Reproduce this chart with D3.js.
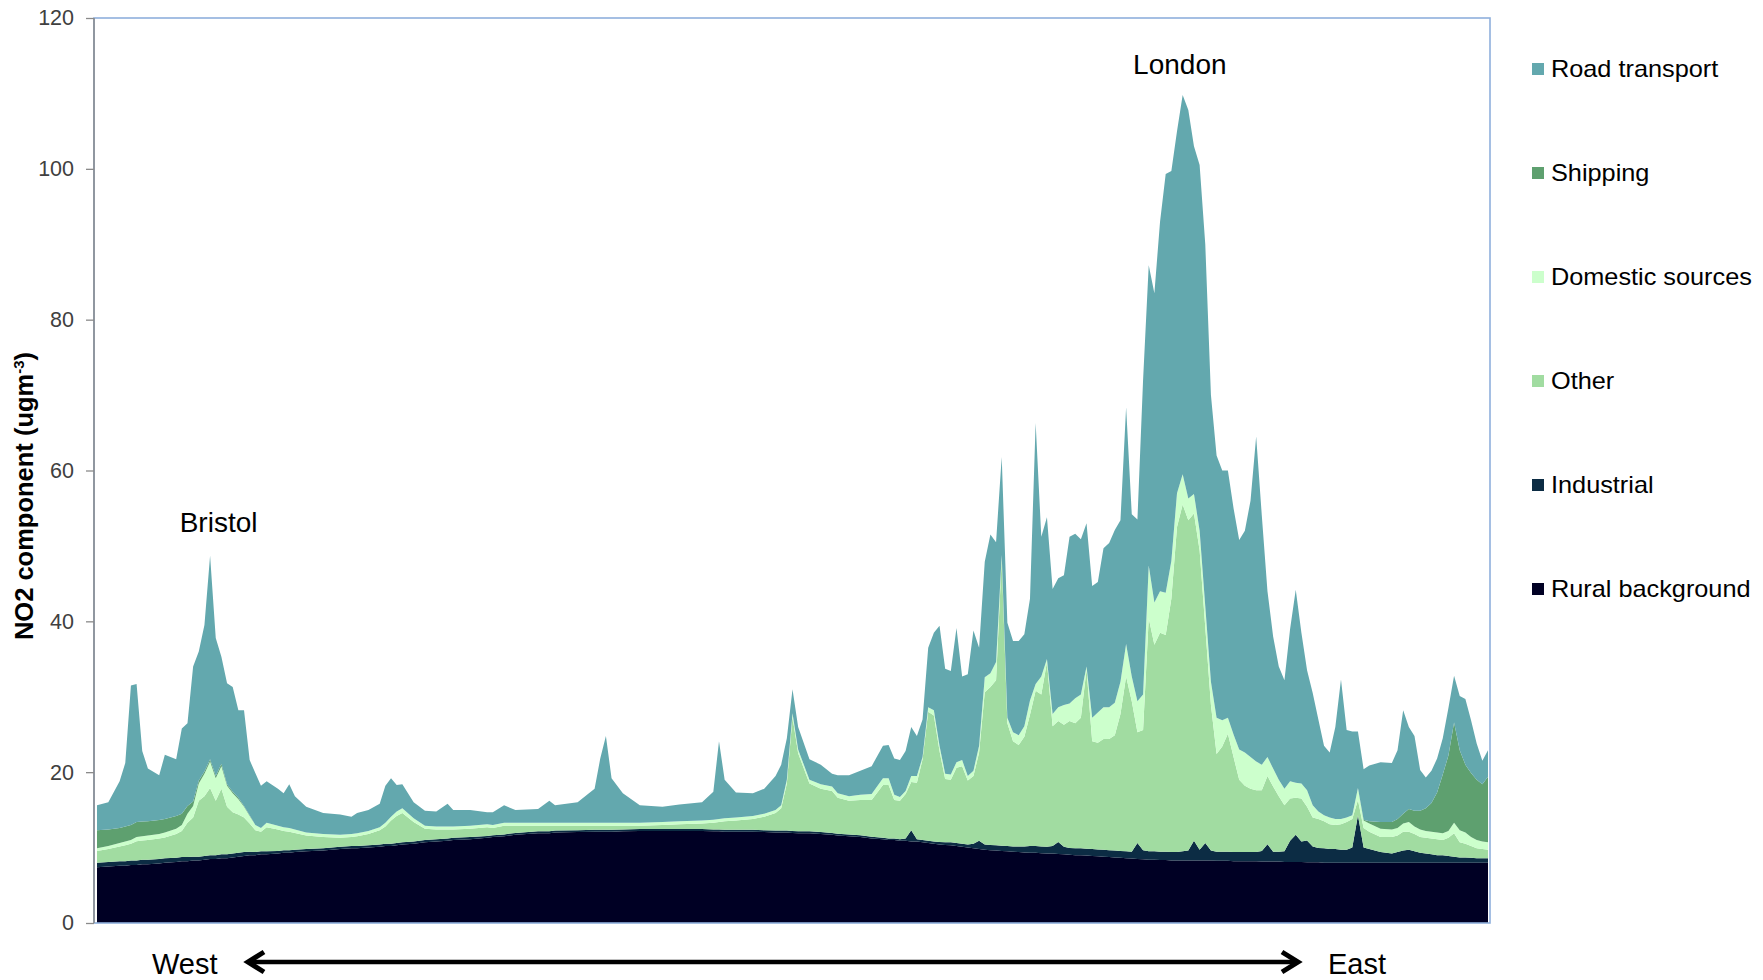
<!DOCTYPE html>
<html><head><meta charset="utf-8">
<script src="https://cdn.jsdelivr.net/npm/d3@7/dist/d3.min.js"></script>
<style>
html,body{margin:0;padding:0;background:#fff;}
svg{display:block;}
text{font-family:"Liberation Sans",Arial,sans-serif;}
</style></head>
<body>
<svg id="chart" width="1763" height="980"></svg>
<script>
// Sample index along the West→East transect (0..246)
const positions = [
0,2,4,5,6,7,8,9,11,12,
14,15,16,17,18,19,20,21,22,23,
24,25,26,27,28,29,30,32,33,34,
35,37,40,43,45,46,48,50,51,52,
53,54,56,58,60,62,63,66,69,70,
72,74,78,80,81,85,88,89,90,91,
93,96,100,103,107,109,110,111,113,116,
118,120,121,122,123,124,126,128,130,131,
133,135,137,139,140,141,142,143,144,145,
146,147,148,149,150,151,152,153,154,155,
156,157,158,159,160,161,162,163,164,165,
166,167,168,169,170,171,172,173,174,175,
176,177,178,179,180,181,182,183,184,185,
186,187,188,189,190,191,192,193,194,195,
196,197,198,199,200,201,202,203,204,205,
206,207,208,209,210,211,212,213,214,215,
216,217,218,219,220,221,222,223,224,225,
227,229,230,231,232,233,234,235,236,237,
238,239,240,241,242,243,244,245,246];

const ruralBackground = [
7.4,7.5,7.6,7.6,7.7,7.7,7.8,7.8,7.9,8.0,
8.1,8.2,8.2,8.3,8.3,8.4,8.5,8.5,8.6,8.6,
8.7,8.8,8.9,9.0,9.0,9.1,9.1,9.2,9.3,9.3,
9.4,9.5,9.6,9.8,9.9,9.9,10.0,10.1,10.2,10.2,
10.3,10.4,10.5,10.7,10.8,10.9,11.0,11.1,11.3,11.4,
11.5,11.7,11.9,11.9,12.0,12.05,12.1,12.1,12.1,12.1,
12.15,12.2,12.2,12.2,12.2,12.15,12.15,12.1,12.1,12.1,
12.05,12.0,12.0,12.0,11.95,11.9,11.9,11.8,11.7,11.6,
11.5,11.4,11.2,11.1,11.0,11.0,10.9,10.9,10.8,10.8,
10.7,10.6,10.5,10.4,10.35,10.3,10.2,10.1,10.0,9.9,
9.8,9.7,9.65,9.6,9.55,9.5,9.45,9.4,9.35,9.3,
9.3,9.25,9.2,9.2,9.15,9.1,9.05,9.0,9.0,8.95,
8.9,8.85,8.8,8.75,8.7,8.65,8.6,8.55,8.5,8.45,
8.4,8.4,8.35,8.35,8.3,8.3,8.3,8.3,8.3,8.3,
8.3,8.3,8.25,8.25,8.25,8.2,8.2,8.2,8.2,8.2,
8.15,8.15,8.15,8.15,8.1,8.1,8.1,8.1,8.05,8.05,
8.05,8.0,8.0,8.0,8.0,8.0,8.0,8.0,8.0,8.0,
8.0,8.0,8.0,8.0,8.0,8.0,8.0,8.0,8.0,8.0,
8.0,8.0,8.0,8.0,8.0,8.0,8.0,8.0,8.0];

const industrial = [
0.6,0.6,0.6,0.6,0.6,0.6,0.6,0.6,0.6,0.6,
0.55,0.55,0.55,0.5,0.5,0.5,0.5,0.5,0.5,0.5,
0.5,0.5,0.5,0.45,0.4,0.4,0.4,0.35,0.35,0.35,
0.3,0.3,0.3,0.3,0.3,0.3,0.3,0.3,0.3,0.3,
0.3,0.3,0.3,0.3,0.3,0.3,0.3,0.3,0.25,0.25,
0.25,0.25,0.25,0.25,0.25,0.25,0.25,0.25,0.25,0.25,
0.25,0.25,0.25,0.25,0.25,0.25,0.25,0.25,0.25,0.25,
0.25,0.25,0.25,0.25,0.25,0.25,0.25,0.25,0.25,0.25,
0.25,0.25,0.25,0.2,0.2,0.2,0.2,0.3,1.5,0.3,
0.3,0.3,0.3,0.35,0.35,0.4,0.4,0.4,0.4,0.6,
1.1,0.7,0.7,0.7,0.7,0.7,0.7,0.75,0.8,0.9,
0.9,0.9,0.9,1.0,1.6,1.0,0.9,0.9,0.9,0.9,
0.9,0.9,0.9,0.9,0.9,0.9,0.9,0.9,2.1,1.2,
1.1,1.1,1.1,1.1,1.1,1.1,1.2,1.3,2.6,1.4,
2.3,1.3,1.2,1.2,1.2,1.2,1.2,1.2,1.2,1.2,
1.4,2.3,1.3,1.3,1.4,2.8,3.6,2.7,2.9,2.1,
1.9,1.9,1.8,1.8,1.7,1.7,2.0,6.3,2.0,1.8,
1.4,1.2,1.4,1.6,1.7,1.5,1.3,1.2,1.1,1.0,
1.0,0.9,0.8,0.7,0.7,0.65,0.6,0.6,0.6];

const other = [
1.55,1.7,1.95,2.1,2.2,2.55,2.55,2.6,2.7,2.75,
3.15,3.45,4.55,5.2,7.4,7.9,8.9,7.2,8.7,6.3,
5.5,5.1,4.6,3.75,2.9,2.6,3.2,2.85,2.55,2.45,
2.25,1.8,1.5,1.2,1.2,1.3,1.5,1.9,2.3,3.1,
3.6,3.9,2.6,1.5,1.3,1.2,1.1,1.1,1.15,0.95,
1.15,0.95,0.75,0.75,0.65,0.6,0.55,0.55,0.55,0.55,
0.5,0.45,0.55,0.65,0.75,0.9,1.0,1.15,1.25,1.45,
1.8,2.35,2.95,6.25,15.1,10.35,6.35,5.75,5.55,4.75,
4.45,4.65,4.85,7.0,7.1,5.1,5.1,5.9,6.4,7.5,
10.7,17.1,16.7,12.05,8.4,8.3,10.0,10.3,8.5,9.0,
11.7,20.2,20.95,21.9,38.05,16.3,13.95,13.45,14.55,17.4,
20.6,20.15,24.5,15.9,16.05,16.2,16.85,16.6,17.3,23.75,
14.3,14.15,14.7,14.75,15.3,18.15,23.2,19.95,14.7,15.95,
30.9,27.4,29.05,28.75,33.6,43.1,46.0,43.8,43.4,39.7,
28.6,19.3,12.95,13.95,15.65,12.6,9.6,8.8,8.4,8.2,
8.05,9.05,8.65,7.35,6.1,5.6,4.9,5.7,4.45,3.85,
3.85,3.6,3.3,3.2,3.4,3.7,3.8,2.0,2.6,2.3,
2.0,2.2,2.2,2.5,2.4,2.3,2.1,2.1,2.1,2.1,
2.0,2.4,3.1,2.0,1.8,1.55,1.3,1.2,1.1];

const domesticSources = [
0.35,0.4,0.45,0.5,0.5,0.55,0.55,0.6,0.6,0.65,
0.7,0.8,1.2,1.5,2.3,3.0,3.5,3.0,3.0,2.8,
2.5,2.0,1.4,1.0,0.7,0.5,0.6,0.5,0.5,0.5,
0.45,0.4,0.4,0.4,0.4,0.4,0.4,0.4,0.5,0.5,
0.6,0.6,0.5,0.4,0.4,0.4,0.4,0.4,0.4,0.4,
0.4,0.4,0.4,0.4,0.4,0.4,0.4,0.4,0.4,0.4,
0.4,0.4,0.4,0.4,0.4,0.4,0.4,0.4,0.4,0.4,
0.4,0.4,0.4,0.5,0.5,0.5,0.5,0.6,0.6,0.6,
0.6,0.7,0.8,0.9,0.9,0.7,0.5,0.4,0.8,0.9,
0.3,0.6,0.7,0.7,0.7,0.7,0.7,0.8,0.6,0.7,
0.9,2.0,1.8,2.4,0.5,0.7,1.2,1.3,1.4,1.9,
0.9,2.4,0.4,1.6,1.8,2.6,2.3,3.3,3.1,0.4,
3.1,4.0,4.2,4.2,4.3,4.3,4.3,3.3,4.1,4.7,
7.0,5.6,5.5,5.6,5.0,4.5,4.0,2.9,2.6,2.6,
2.8,3.1,4.8,3.5,2.1,3.0,4.0,4.4,4.2,3.8,
3.4,2.5,2.4,2.2,2.2,2.3,2.0,2.0,2.2,1.6,
1.0,0.8,0.9,0.8,0.7,0.6,0.5,1.6,1.0,1.1,
1.1,1.0,1.0,1.1,1.3,1.0,1.0,0.9,0.9,0.9,
0.9,0.9,1.4,1.6,1.5,1.2,1.1,1.0,1.0];

const shipping = [
2.4,2.2,2.0,2.0,2.0,2.0,1.95,1.9,1.85,1.8,
1.7,1.5,1.0,0.6,0.4,0.3,0.3,0.3,0.3,0.2,
0.2,0.2,0.1,0.1,0,0,0,0,0,0,
0,0,0,0,0,0,0,0,0,0,
0,0,0,0,0,0,0,0,0,0,
0,0,0,0,0,0,0,0,0,0,
0,0,0,0,0,0,0,0,0,0,
0,0,0,0,0,0,0,0,0,0,
0,0,0,0,0,0,0,0,0,0,
0,0,0,0,0,0,0,0,0,0,
0,0,0,0,0,0,0,0,0,0,
0,0,0,0,0,0,0,0,0,0,
0,0,0,0,0,0,0,0,0,0,
0,0,0,0,0,0,0,0,0,0,
0,0,0,0,0,0,0,0,0,0,
0,0,0,0,0,0,0,0,0,0,
0,0,0,0,0,0,0,0,0.1,0.3,
0.9,1.0,1.2,1.3,1.7,2.1,2.5,3.0,3.8,5.3,
7.8,10.0,13.3,10.6,9.0,8.5,8.0,7.6,8.7];

const roadTransport = [
3.3,3.6,6.2,8.4,18.5,18.3,9.35,7.0,5.95,8.5,
7.5,11.3,11.0,17.9,17.1,19.4,27.0,18.3,14.2,13.4,
13.9,11.6,12.7,7.3,6.9,5.6,5.5,4.9,4.5,5.8,
4.4,3.4,2.8,2.7,2.3,2.7,2.8,3.1,4.9,5.1,
3.5,3.2,2.1,2.0,2.0,3.0,2.2,2.1,1.6,1.7,
2.3,1.7,1.8,2.9,2.3,2.7,4.5,8.5,11.5,5.9,
3.9,2.3,2.0,2.2,2.4,3.7,10.3,5.1,3.3,3.0,
3.3,4.5,5.4,5.5,3.2,3.0,2.7,2.6,1.7,2.4,
2.8,3.2,3.7,4.3,4.4,4.8,4.9,5.3,6.5,5.3,
5.0,7.9,10.3,15.9,13.9,13.7,17.8,11.1,13.5,18.6,
13.0,15.3,18.4,15.9,13.0,12.6,12.1,12.5,12.2,13.5,
34.6,18.5,18.8,16.6,17.1,17.2,22.1,21.8,20.6,19.0,
17.5,17.3,21.1,21.8,22.9,21.4,31.4,21.5,24.1,41.7,
39.8,41.0,49.0,55.5,51.7,48.0,50.3,51.5,46.1,48.5,
48.0,38.0,34.8,33.1,32.8,30.0,27.8,29.4,34.0,43.1,
33.0,22.0,17.5,15.0,14.4,20.2,25.6,20.0,15.9,14.9,
12.2,9.2,8.6,12.2,18.5,11.6,11.1,7.5,6.7,7.4,
7.9,7.8,9.1,13.7,10.9,9.9,5.4,4.1,4.3,4.5,
4.8,6.3,6.2,7.2,8.7,7.0,4.8,3.1,3.5];

const seriesNames = ["Rural background","Industrial","Other","Domestic sources","Shipping","Road transport"];
const seriesColors = ["#000024","#0c2c44","#a1dca1","#ccffcc","#5ea06f","#63a8ae"];
const yTicks = [0,20,40,60,80,100,120];
const yTitle = "NO2 component (ugm";
const yTitleSup = "-3";
const cityLabels = [{name:"Bristol", pos:21.5, value:51.8},{name:"London", pos:191.5, value:112.6}];
const directionLabels = ["West","East"];

const seriesData = [ruralBackground, industrial, other, domesticSources, shipping, roadTransport];
const table = positions.map((p,i)=>{
  const row = {pos:p};
  seriesNames.forEach((n,k)=>row[n]= +seriesData[k][i] || 0);
  return row;
});

const svg = d3.select("#chart");
const x = d3.scaleLinear().domain([0,246]).range([97,1488]);
const y = d3.scaleLinear().domain([0,120]).range([923,18]);

const layers = d3.stack().keys(seriesNames)(table);
const area = d3.area().x(d=>x(d.data.pos)).y0(d=>y(d[0])).y1(d=>y(d[1]));

svg.append("g").selectAll("path").data(layers).join("path")
  .attr("d", area).attr("fill",(d,i)=>seriesColors[i]).attr("stroke","none");

// plot frame
svg.append("rect").attr("x",94).attr("y",18).attr("width",1396).attr("height",905)
  .attr("fill","none").attr("stroke","#8fb0dc").attr("stroke-width",1.6);

// y axis
const yAxis = svg.append("g").attr("transform","translate(94,0)")
  .call(d3.axisLeft(y).tickValues(yTicks).tickSize(8).tickPadding(12));
yAxis.select(".domain").attr("stroke","#8a8a8a").attr("stroke-width",1.5).attr("d","M0,18V923");
yAxis.selectAll(".tick line").attr("stroke","#8a8a8a").attr("stroke-width",1.3);
yAxis.selectAll(".tick text").attr("font-size",21.5).attr("fill","#404040")
  .attr("font-family","'Liberation Sans',Arial,sans-serif");

// y title
const yt = svg.append("text").attr("transform","translate(33,496) rotate(-90)")
  .attr("text-anchor","middle").attr("font-size",25.5).attr("font-weight","bold").attr("fill","#000");
yt.append("tspan").text(yTitle);
yt.append("tspan").attr("dy",-9).attr("font-size",15).text(yTitleSup);
yt.append("tspan").attr("dy",9).text(")");

// city labels
svg.append("g").selectAll("text").data(cityLabels).join("text")
  .attr("x",d=>x(d.pos)).attr("y",d=>y(d.value)).attr("text-anchor","middle")
  .attr("font-size",28).attr("fill","#000").text(d=>d.name);

// legend (top entry = last series)
const leg = svg.append("g");
const legOrder = seriesNames.map((n,i)=>({n,c:seriesColors[i]})).reverse();
const legY = d3.scaleLinear().domain([0,5]).range([69,589]);
legOrder.forEach((d,i)=>{
  leg.append("rect").attr("x",1532).attr("y",legY(i)-6).attr("width",12).attr("height",12).attr("fill",d.c);
  leg.append("text").attr("transform",`translate(1551,${legY(i)+8}) scale(1.1,1)`)
    .attr("font-size",23).attr("fill","#000").text(d.n);
});

// direction arrow
svg.append("text").attr("x",152).attr("y",974).attr("font-size",29).attr("fill","#000").text(directionLabels[0]);
svg.append("text").attr("x",1328).attr("y",974).attr("font-size",29).attr("fill","#000").text(directionLabels[1]);
const ay = 962;
svg.append("line").attr("x1",248).attr("x2",1298).attr("y1",ay).attr("y2",ay)
  .attr("stroke","#000").attr("stroke-width",4.5);
svg.append("path").attr("d",`M264,${ay-10}L248,${ay}L264,${ay+10}`).attr("fill","none")
  .attr("stroke","#000").attr("stroke-width",5).attr("stroke-linejoin","miter");
svg.append("path").attr("d",`M1282,${ay-10}L1298,${ay}L1282,${ay+10}`).attr("fill","none")
  .attr("stroke","#000").attr("stroke-width",5).attr("stroke-linejoin","miter");
</script>
</body></html>
